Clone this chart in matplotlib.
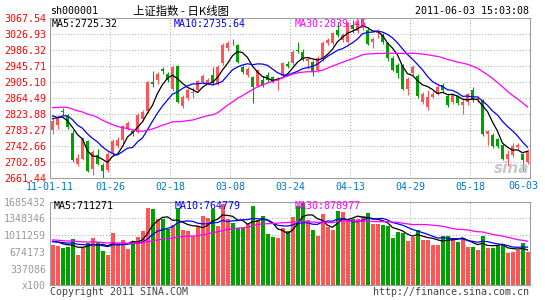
#!/usr/bin/env python
"""Daily K-line chart of the SSE composite (sh000001), 2011-01-11 .. 2011-06-03,
in the old sina finance style. Writes out.png (545x300)."""

import sys

import matplotlib
matplotlib.use("Agg")
import matplotlib.pyplot as plt
import numpy as np
import pandas as pd

OUT = "out.png"
W, H = 545, 300

# 96 trading days
opens = [2783, 2796, 2832, 2820, 2776, 2699, 2711, 2756, 2686, 2721,
         2696, 2682, 2726, 2743, 2758, 2787, 2781, 2779, 2813, 2831,
         2905, 2910, 2938, 2927, 2889, 2946, 2844, 2864, 2877, 2885,
         2905, 2903, 2923, 2902, 2955, 2992, 3011, 3000, 2945, 2924,
         2919, 2896, 2911, 2924, 2918, 2910, 2921, 2951, 2953, 2988,
         2983, 2960, 2957, 2936, 2966, 3004, 3006, 3039, 3012, 3008,
         3050, 3036, 3042, 3038, 3007, 3030, 3024, 3005, 2966, 2950,
         2948, 2889, 2929, 2920, 2855, 2842, 2868, 2876, 2899, 2870,
         2855, 2870, 2848, 2855, 2885, 2859, 2859, 2775, 2772, 2760,
         2745, 2711, 2720, 2741, 2722, 2703]
highs = [2815, 2821, 2840, 2825, 2783, 2722, 2766, 2759, 2732, 2737,
         2700, 2728, 2762, 2766, 2797, 2808, 2786, 2826, 2834, 2908,
         2935, 2932, 2945, 2932, 2950, 2950, 2872, 2890, 2892, 2912,
         2926, 2916, 2944, 2948, 3006, 3009, 3016, 3003, 2950, 2945,
         2922, 2940, 2920, 2930, 2922, 2918, 2956, 2958, 2987, 3008,
         2990, 2969, 2962, 2972, 3010, 3017, 3034, 3059, 3030, 3058,
         3062, 3062, 3067.54, 3046, 3020, 3040, 3031, 3008, 2972, 2955,
         2952, 2918, 2948, 2925, 2880, 2886, 2883, 2897, 2903, 2875,
         2877, 2874, 2864, 2879, 2893, 2870, 2863, 2783, 2776, 2763,
         2748, 2734, 2751, 2752, 2726, 2736]
lows = [2773, 2787, 2821, 2787, 2702, 2692, 2707, 2677, 2669, 2694,
        2661.44, 2678, 2720, 2739, 2752, 2783, 2768, 2776, 2808, 2828,
        2893, 2900, 2926, 2905, 2884, 2852, 2840, 2860, 2866, 2880,
        2900, 2898, 2897, 2898, 2950, 2985, 3000, 2955, 2925, 2918,
        2853, 2892, 2893, 2905, 2903, 2885, 2918, 2942, 2950, 2979,
        2958, 2940, 2920, 2932, 2960, 2999, 3000, 3020, 3008, 3004,
        3030, 3030, 3038, 3000, 2993, 3018, 3003, 2960, 2933, 2916,
        2885, 2874, 2924, 2865, 2850, 2836, 2864, 2872, 2880, 2842,
        2850, 2848, 2824, 2848, 2855, 2855, 2770, 2745, 2738, 2738,
        2707, 2693, 2715, 2735, 2680, 2698]
closes = [2806, 2817, 2830, 2792, 2709, 2714, 2761, 2680, 2728, 2699,
          2680, 2722, 2756, 2758, 2794, 2802, 2776, 2823, 2830, 2905,
          2900, 2927, 2935, 2910, 2944, 2855, 2868, 2885, 2880, 2908,
          2921, 2912, 2903, 2944, 3001, 3005, 3009, 2957, 2930, 2940,
          2894, 2936, 2898, 2911, 2908, 2913, 2953, 2947, 2983, 2985,
          2962, 2963, 2930, 2968, 3005, 3013, 3029, 3025, 3025, 3056,
          3040, 3059, 3063, 3002, 3014, 3034, 3008, 2966, 2937, 2929,
          2889, 2914, 2944, 2870, 2876, 2868, 2876, 2893, 2885, 2847,
          2872, 2853, 2855, 2875, 2859, 2864, 2775, 2781, 2743, 2743,
          2711, 2724, 2743, 2747, 2707, 2730]
# volume in lots of 100 shares
volumes = [809000, 787000, 743000, 772000, 932000, 603000, 766000, 850000, 952000, 878000,
           684000, 603000, 1060000, 860000, 909000, 725000, 868000, 978000, 1083000, 1556000,
           1535000, 1329000, 1329000, 1133000, 1215000, 1553000, 1121000, 1101000, 997000, 1184000,
           1391000, 1344000, 1535000, 1184000, 1626000, 1339000, 1257000, 1157000, 1153000, 1236000,
           1592000, 1319000, 1403000, 1028000, 973000, 961000, 1149000, 1101000, 1379000, 1585000,
           1685432, 1319000, 1104000, 999000, 1435000, 1174000, 1122000, 1504000, 1481000, 1324000,
           1324000, 1324000, 1400000, 1445000, 1226000, 1236000, 1205000, 1187000, 957000, 1069000,
           1052000, 885000, 978000, 1121000, 909000, 909000, 813000, 819000, 999000, 999000,
           942000, 872000, 957000, 772000, 772000, 720000, 999000, 749000, 749000, 790000,
           834000, 653000, 669000, 701000, 854000, 677000]

# the 29 sessions before the first candle, only used to start the moving averages
prev_closes = [2800, 2805, 2815, 2830, 2850, 2850, 2848, 2815, 2860, 2890,
               2900, 2915, 2895, 2894, 2856, 2902, 2883, 2852, 2833, 2800,
               2790, 2785, 2790, 2808, 2853, 2839, 2824, 2839, 2792]
prev_volumes = [990000, 950000, 1020000, 960000, 910000, 980000, 900000, 940000, 970000, 930000,
                890000, 960000, 920000, 870000, 930000, 900000, 880000, 920000, 910000, 890000,
                860000, 840000, 900000, 890000, 865000, 850000, 920000, 880000, 966000]

date_labels = ["11-01-11", "01-26", "02-18", "03-08", "03-24",
               "04-13", "04-29", "05-18", "06-03"]
ma_windows = [5, 10, 30]
ma_colors = ["black", "blue", "magenta"]
price_ma_text = ["MA5:2725.32", "MA10:2735.64", "MA30:2839.45"]
vol_ma_text = ["MA5:711271", "MA10:764779", "MA30:878977"]

RED = "#ff5555"
GREEN = "#00a000"
GRID = "#a8a8a8"
FRAME = "#a0a0a0"


def px(x, y):
    """pixel position (from top-left) -> figure fraction"""
    return x / W, 1 - y / H


def main() -> int:
    plt.rcParams["font.family"] = "DejaVu Sans Mono"
    plt.rcParams["font.size"] = 7.2

    o, h, l, c = (np.asarray(a, float) for a in (opens, highs, lows, closes))
    v = np.asarray(volumes, float)
    n = len(c)
    x = np.arange(n)
    col = np.where(c >= o, RED, GREEN)

    fig = plt.figure(figsize=(W / 100, H / 100), dpi=100)
    ax = fig.add_axes([50 / W, 1 - 178.3 / H, 480 / W, 160 / H])
    axv = fig.add_axes([50 / W, 1 - 285.3 / H, 480 / W, 83.8 / H])

    # candles
    ax.vlines(x, l, h, colors=col, lw=0.8, zorder=2)
    ax.bar(x, np.maximum(np.abs(c - o), 1.5), bottom=np.minimum(o, c),
           width=0.75, color=col, lw=0, zorder=3)
    s = pd.Series(prev_closes + list(c))
    for w, mc in zip(ma_windows, ma_colors):
        ma = s.rolling(w).mean().iloc[len(prev_closes):].values
        ax.plot(x, ma, color=mc, lw=0.9, zorder=4)

    # volume
    axv.bar(x, v, width=0.8, color=col, lw=0, zorder=2)
    sv = pd.Series(prev_volumes + list(v))
    for w, mc in zip(ma_windows, ma_colors):
        ma = sv.rolling(w).mean().iloc[len(prev_volumes):].values
        axv.plot(x, ma, color=mc, lw=0.9, zorder=3)

    lo, hi = l.min(), h.max()
    vmax = v.max()
    xt = [12 * k - 0.5 for k in range(len(date_labels) - 1)]

    ax.set_ylim(lo, hi)
    pt = np.linspace(lo, hi, 11)
    ax.set_yticks(pt)
    ax.set_yticklabels([f"{p:.2f}" for p in pt], color="red")
    ax.set_xticks(xt)
    ax.set_xticklabels(date_labels[:-1], color="#0077cc")
    ax.annotate(date_labels[-1], xy=(n - 0.5, lo), xycoords="data",
                xytext=(8, -3), textcoords="offset pixels",
                ha="right", va="top", color="#0077cc")

    axv.set_ylim(0, vmax)
    vt = np.linspace(0, vmax, 6)
    axv.set_yticks(vt)
    axv.set_yticklabels(["x100"] + [f"{t:.0f}" for t in vt[1:]], color="#999999")
    axv.set_xticks(xt)
    axv.set_xticklabels([])

    for a in (ax, axv):
        a.set_xlim(-0.5, n - 0.5)
        a.set_axisbelow(True)
        a.grid(color=GRID, ls=(0, (1, 2)), lw=0.7)
        a.tick_params(length=0, pad=3)
        for sp in a.spines.values():
            sp.set_color(FRAME)
            sp.set_linewidth(0.8)

    # MA readouts
    for txt, mc, xx in zip(price_ma_text, ma_colors, [52, 174, 295]):
        fig.text(*px(xx, 24), txt, color=mc, va="center", ha="left")
    for txt, mc, xx in zip(vol_ma_text, ma_colors, [54, 175, 295]):
        fig.text(*px(xx, 206), txt, color=mc, va="center", ha="left")

    # header / footer
    fig.text(*px(50, 11), "sh000001", va="center", ha="left")
    fig.text(*px(181, 11), "上证指数 - 日K线图", va="center", ha="center",
             family=["Noto Sans CJK SC", "DejaVu Sans"], fontsize=8.2)
    fig.text(*px(529, 11), "2011-06-03 15:03:08", va="center", ha="right")
    fig.text(*px(50, 292), "Copyright 2011 SINA.COM", va="center", ha="left",
             color="#444444")
    fig.text(*px(529, 292), "http://finance.sina.com.cn", va="center",
             ha="right", color="#444444")
    fig.text(*px(512, 168), "sina", va="center", ha="center", color="#c4c4c4",
             family="DejaVu Sans", style="italic", fontweight="bold",
             fontsize=11, alpha=0.9)

    fig.savefig(OUT, dpi=100)
    plt.close(fig)
    return 0


if __name__ == "__main__":
    sys.exit(main())
